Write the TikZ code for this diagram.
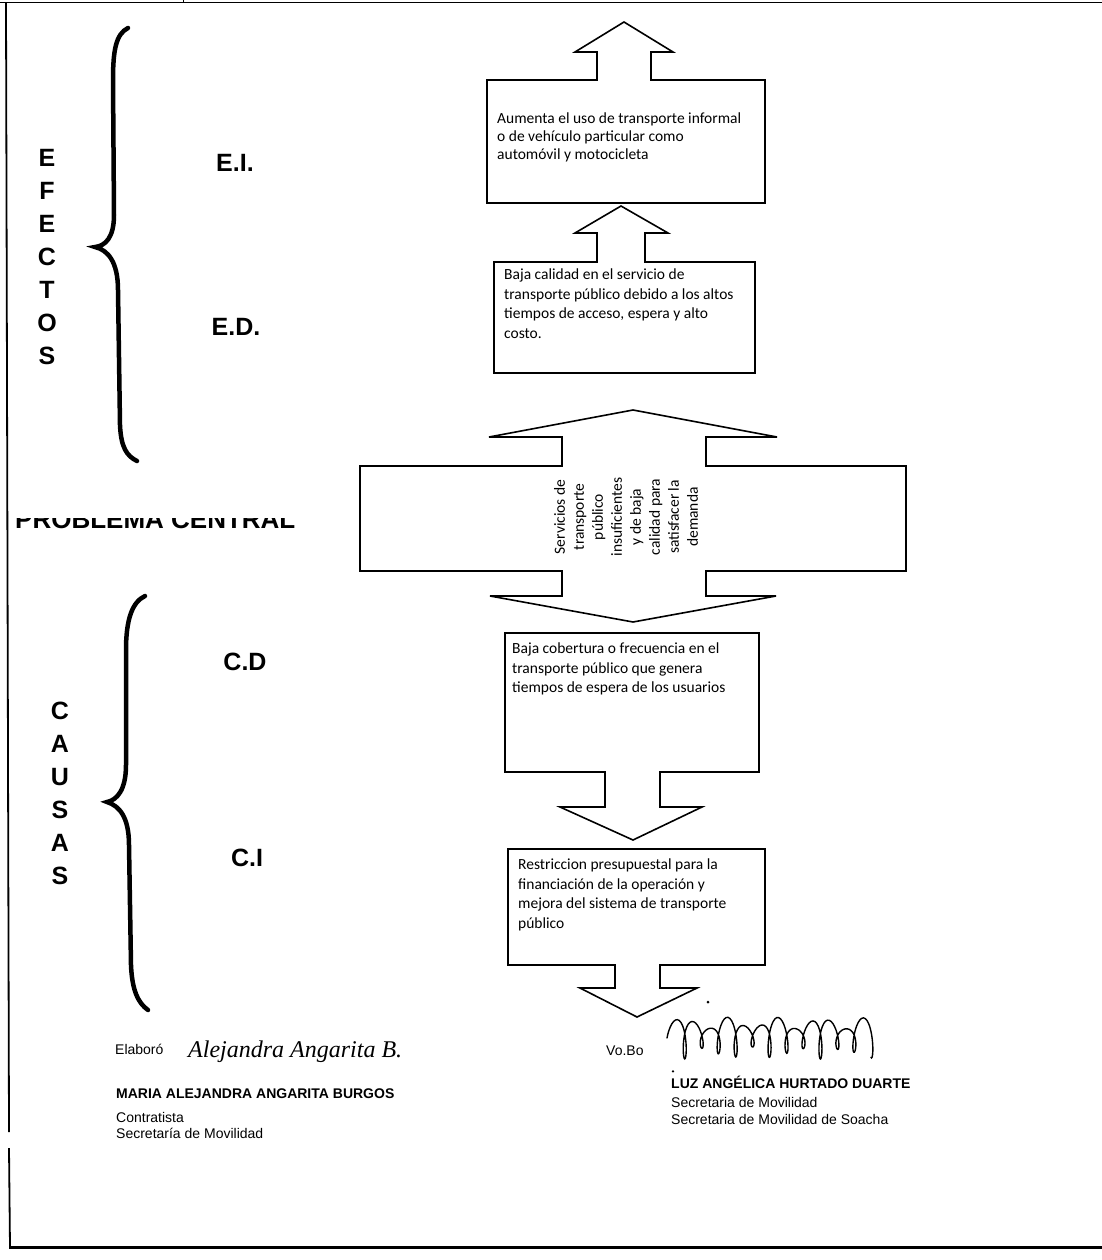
\documentclass[tikz,border=0pt]{standalone}
\usepackage{fontspec}
\setmainfont{Liberation Sans}
\newfontfamily\boxfont{Carlito}
\newfontfamily\sigfont{Liberation Serif}
\usetikzlibrary{calc}
\begin{document}
\begin{tikzpicture}[x=1pt,y=-1pt,
  shapeline/.style={draw=black, line width=1.6pt, line join=miter},
  boxtext/.style={anchor=north west, align=left, inner sep=0pt, font=\boxfont\fontsize{15.5}{19.5}\selectfont},
  bigletter/.style={font=\bfseries\fontsize{25}{33}\selectfont, align=center, inner sep=0pt},
  foot/.style={anchor=base west, inner sep=0pt, font=\fontsize{14}{17}\selectfont},
  footbold/.style={anchor=base west, inner sep=0pt, font=\bfseries\fontsize{14}{17}\selectfont},
  bracepath/.style={line width=4.5pt, line cap=round}]
\useasboundingbox (0,0) rectangle (1102,1260);
\fill[white] (0,0) rectangle (1102,1260);

% page frame
\draw[line width=1pt] (0,3) -- (1102,3);
\draw[line width=1pt] (183,0) -- (183,3);
\draw[line width=1.8pt] (6,3) -- (9,1132);
\draw[line width=1.8pt] (9,1148) -- (10,1247);
\draw[line width=3pt] (9,1247) -- (1102,1247);

% braces
\draw[bracepath] (128,28) .. controls (116,34) and (113,50) .. (113,80)
  -- (114,215) .. controls (114,238) and (105,246) .. (95,247)
  .. controls (108,250) and (118,262) .. (118,290)
  -- (120,425) .. controls (121,448) and (127,456) .. (137,461);
\draw[bracepath] (145,596) .. controls (132,602) and (126,620) .. (126,650)
  -- (126,765) .. controls (126,790) and (117,800) .. (107,802)
  .. controls (120,806) and (129,818) .. (129,845)
  -- (131,965) .. controls (132,990) and (138,1003) .. (148,1010);

% side labels
\node[bigletter] (efectos) at (47,257) {E\\F\\E\\C\\T\\O\\S};
\node[bigletter] (causas) at (60,793) {C\\A\\U\\S\\A\\S};
\node[bigletter] (ei) at (235,163) {E.I.};
\node[bigletter] (ed) at (236,327) {E.D.};
\node[bigletter] (cd) at (245,662) {C.D};
\node[bigletter] (ci) at (247,858) {C.I};
\begin{scope}
  \clip (0,518) rectangle (345,545);
  \node[anchor=base west, inner sep=0pt, font=\bfseries\fontsize{26}{30}\selectfont] (pc) at (15,528) {PROBLEMA CENTRAL};
\end{scope}

% callout shapes
\draw[shapeline] (487,80) -- (597,80) -- (597,52) -- (575,52) -- (624,22) -- (673,52)
  -- (651,52) -- (651,80) -- (765,80) -- (765,203) -- (487,203) -- cycle;
\draw[shapeline] (494,262) -- (597,262) -- (597,233) -- (575,233) -- (621,206) -- (668,233)
  -- (645,233) -- (645,262) -- (755,262) -- (755,373) -- (494,373) -- cycle;
\draw[shapeline] (360,466) -- (562,466) -- (562,437) -- (489,437) -- (633,410) -- (777,437)
  -- (706,437) -- (706,466) -- (906,466) -- (906,571) -- (706,571) -- (706,596)
  -- (776,596) -- (633,622) -- (490,596) -- (562,596) -- (562,571) -- (360,571) -- cycle;
\draw[shapeline] (505,633) -- (759,633) -- (759,772) -- (660,772) -- (660,807) -- (702,807)
  -- (633,840) -- (560,807) -- (605,807) -- (605,772) -- (505,772) -- cycle;
\draw[shapeline] (508,849) -- (765,849) -- (765,965) -- (660,965) -- (660,988) -- (697,988)
  -- (637,1017) -- (580,988) -- (615,988) -- (615,965) -- (508,965) -- cycle;

% box texts
\node[boxtext, font=\boxfont\fontsize{15.5}{18}\selectfont] (t1) at (497,113)
  {Aumenta el uso de transporte informal\\o de vehículo particular como\\automóvil y motocicleta};
\node[boxtext] (t2) at (504,269)
  {Baja calidad en el servicio de\\transporte público debido a los altos\\tiempos de acceso, espera y alto\\costo.};
\node[boxtext, anchor=center, align=center, rotate=90, font=\boxfont\fontsize{15.5}{19}\selectfont] (tc) at (626,517)
  {Servicios de\\transporte\\público\\insuficientes\\y de baja\\calidad para\\satisfacer la\\demanda};
\node[boxtext] (t3) at (512,643)
  {Baja cobertura o frecuencia en el\\transporte público que genera\\tiempos de espera de los usuarios};
\node[boxtext] (t4) at (518,859)
  {Restriccion presupuestal para la\\financiación de la operación y\\mejora del sistema de transporte\\público};

% footer left
\node[foot] (elab) at (115,1054) {Elaboró};
\node[anchor=base west, inner sep=0pt, font=\sigfont\itshape\fontsize{24}{26}\selectfont] (sig1) at (188,1057) {Alejandra Angarita B.};
\node[footbold] (maria) at (116,1098) {MARIA ALEJANDRA ANGARITA BURGOS};
\node[foot] (contr) at (116,1122) {Contratista};
\node[foot] (secl) at (116,1138) {Secretaría de Movilidad};

% footer right
\node[foot] (vobo) at (606,1055) {Vo.Bo};
\draw[line width=1.4pt, line cap=round] plot[smooth, samples=300, domain=0:74]
  ({672+2.7*\x-5*cos(\x r)}, {1038-(15+6*sin(0.37*\x r))*sin(\x r)});
\node[footbold] (luz) at (671,1088) {LUZ ANGÉLICA HURTADO DUARTE};
\node[foot] (secr1) at (671,1107) {Secretaria de Movilidad};
\node[foot] (secr2) at (671,1124) {Secretaria de Movilidad de Soacha};

% specks
\fill (708,1002) circle (1.5);
\fill ([xshift=2pt,yshift=4pt]luz.north west) circle (1.3);
\end{tikzpicture}
\end{document}
